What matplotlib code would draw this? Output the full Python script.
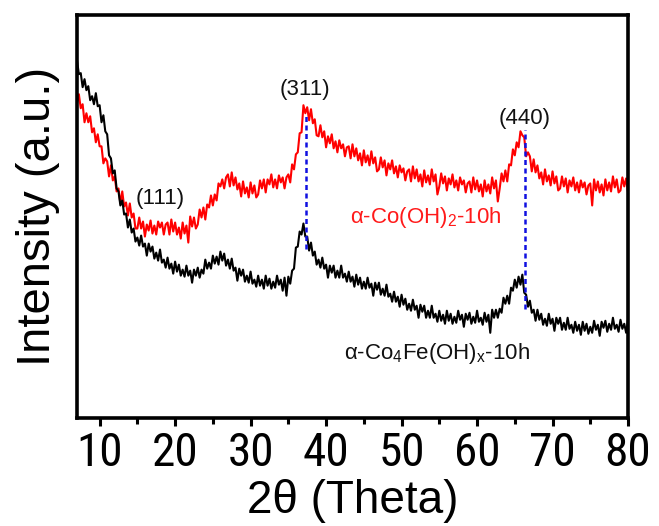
import numpy as np
import matplotlib
matplotlib.use('Agg')
import matplotlib.pyplot as plt
from matplotlib import font_manager
from matplotlib.ticker import MultipleLocator

# 2theta grid, 0.25 deg step from 7 to 80
two_theta = np.arange(7.0, 80.001, 0.25)

co4fe = [357, 343, 344, 330, 338, 327, 331, 317, 321, 313, 324, 311, 312, 295, 302, 286,
         283, 262, 259, 244, 247, 229, 226, 212, 217, 203, 204, 190, 198, 185, 189, 176,
         180, 172, 182, 171, 174, 162, 174, 166, 171, 159, 165, 157, 168, 155, 158, 150,
         160, 149, 154, 144, 156, 146, 153, 142, 148, 141, 152, 142, 147, 135, 148, 142,
         150, 140, 148, 144, 158, 149, 155, 149, 162, 154, 161, 153, 166, 157, 164, 152,
         158, 149, 159, 147, 150, 137, 149, 142, 148, 136, 142, 135, 146, 134, 138, 131,
         142, 132, 138, 129, 142, 132, 139, 129, 136, 130, 142, 133, 138, 127, 140, 122,
         141, 134, 147, 149, 170, 171, 186, 183, 194, 181, 181, 167, 175, 162, 166, 153,
         158, 150, 160, 149, 153, 140, 152, 145, 152, 140, 147, 140, 152, 140, 144, 136,
         146, 136, 141, 131, 143, 133, 140, 129, 136, 129, 140, 130, 134, 122, 135, 128,
         135, 123, 129, 122, 133, 121, 124, 116, 126, 116, 121, 111, 123, 113, 119, 108,
         114, 107, 118, 108, 112, 100, 113, 106, 112, 100, 107, 100, 112, 100, 104, 96,
         107, 97, 103, 94, 107, 97, 104, 94, 101, 95, 107, 98, 103, 91, 104, 98,
         105, 94, 101, 95, 107, 96, 100, 93, 105, 96, 103, 85, 108, 100, 108, 100,
         109, 105, 120, 114, 122, 114, 130, 127, 138, 130, 141, 133, 143, 125, 123, 111,
         117, 105, 108, 97, 108, 98, 104, 93, 99, 92, 104, 94, 99, 87, 100, 94,
         100, 88, 95, 88, 100, 89, 93, 85, 96, 87, 93, 83, 96, 87, 94, 84,
         91, 85, 97, 88, 93, 82, 96, 90, 97, 86, 94, 88, 100, 89, 93, 86,
         98, 89, 94, 85, 98]

co_oh2 = [314, 323, 309, 313, 295, 304, 295, 301, 285, 289, 275, 283, 271, 271, 254, 259,
          256, 241, 252, 237, 241, 226, 229, 214, 226, 211, 215, 202, 214, 200, 204, 189,
          189, 200, 189, 196, 181, 193, 187, 197, 184, 192, 183, 196, 190, 195, 183, 193,
          195, 183, 198, 186, 195, 183, 190, 179, 195, 184, 192, 175, 201, 191, 200, 189,
          193, 208, 200, 210, 198, 213, 210, 222, 212, 223, 217, 234, 231, 238, 229, 240,
          243, 231, 245, 232, 240, 228, 234, 221, 236, 224, 230, 220, 235, 224, 232, 220,
          223, 237, 229, 238, 225, 238, 233, 243, 230, 238, 229, 242, 235, 240, 229, 240,
          243, 235, 253, 248, 263, 265, 284, 285, 312, 304, 310, 297, 308, 294, 298, 282,
          281, 292, 280, 286, 270, 281, 274, 283, 269, 276, 265, 277, 269, 273, 261, 270,
          271, 259, 273, 261, 269, 257, 264, 252, 267, 255, 262, 252, 266, 254, 260, 246,
          248, 260, 250, 257, 242, 254, 248, 257, 244, 251, 240, 252, 245, 249, 237, 246,
          248, 236, 251, 239, 248, 236, 243, 231, 247, 235, 242, 233, 248, 236, 243, 223,
          231, 244, 234, 241, 227, 239, 233, 243, 230, 237, 227, 240, 233, 237, 225, 234,
          236, 225, 240, 228, 237, 226, 233, 221, 237, 226, 233, 224, 240, 229, 237, 216,
          229, 244, 236, 247, 236, 253, 252, 268, 262, 275, 270, 286, 282, 280, 261, 265,
          261, 246, 258, 245, 252, 239, 245, 233, 248, 236, 242, 232, 246, 234, 241, 227,
          229, 241, 231, 239, 225, 237, 231, 240, 227, 235, 225, 237, 230, 235, 223, 232,
          234, 212, 238, 227, 236, 225, 233, 222, 238, 227, 235, 226, 241, 230, 238, 225,
          227, 240, 231, 239, 225]

hkl_labels = ['(111)', '(311)', '(440)']
hkl_x = [18.0, 37.2, 66.35]
hkl_y = [219, 328, 299]

peak_x = [37.3, 66.3]
peak_top = [302, 287]
peak_bottom = [169, 109]

names = {f.name for f in font_manager.fontManager.ttflist}
narrow = 'Liberation Sans'
for cand in ['Liberation Sans Narrow', 'Roboto Condensed', 'Open Sans Condensed']:
    if cand in names:
        narrow = cand
        break
tick_size = 34 if narrow != 'Liberation Sans' else 31

plt.rcParams['font.family'] = ['Liberation Sans', 'DejaVu Sans']
plt.rcParams['mathtext.fontset'] = 'custom'
plt.rcParams['mathtext.rm'] = 'Liberation Sans'
plt.rcParams['mathtext.it'] = 'Liberation Sans:italic'

fig = plt.figure(figsize=(6.59, 5.26), dpi=100)
ax = fig.add_axes([0.1168, 0.2053, 0.8362, 0.7662])

ax.plot(two_theta, co_oh2, color='#ff0000', lw=1.5)
ax.plot(two_theta, co4fe, color='black', lw=1.5)

for x, y0, y1 in zip(peak_x, peak_bottom, peak_top):
    ax.plot([x, x], [y0, y1], color='#1010e0', lw=1.8, linestyle=(0, (2, 1.4)))

for t, x, y in zip(hkl_labels, hkl_x, hkl_y):
    ax.text(x, y, t, fontsize=16, ha='center', va='center', color='#111111')

ax.text(43.2, 200, r'α-Co(OH)$_{2}$-10h', fontsize=16, color='#ff1a1a', va='center')
ax.text(42.4, 64, r'α-Co$_{4}$Fe(OH)$_{\mathrm{x}}$-10h', fontsize=16, color='#111111', va='center')

ax.set_xlim(7, 80)
ax.set_ylim(0, 402)
ax.set_yticks([])
ax.xaxis.set_major_locator(MultipleLocator(10))
ax.xaxis.set_minor_locator(MultipleLocator(5))
ax.tick_params(axis='x', which='major', direction='out', length=6, width=2.2, pad=3)
ax.tick_params(axis='x', which='minor', direction='out', length=4.5, width=2.2)
for lab in ax.get_xticklabels():
    lab.set_fontfamily(narrow)
    lab.set_fontsize(tick_size)
for s in ax.spines.values():
    s.set_linewidth(2.6)

ax.set_xlabel('2θ (Theta)', fontsize=33, labelpad=3)
ax.set_ylabel('Intensity (a.u.)', fontsize=34, labelpad=12)

fig.savefig('out.png', dpi=100)
